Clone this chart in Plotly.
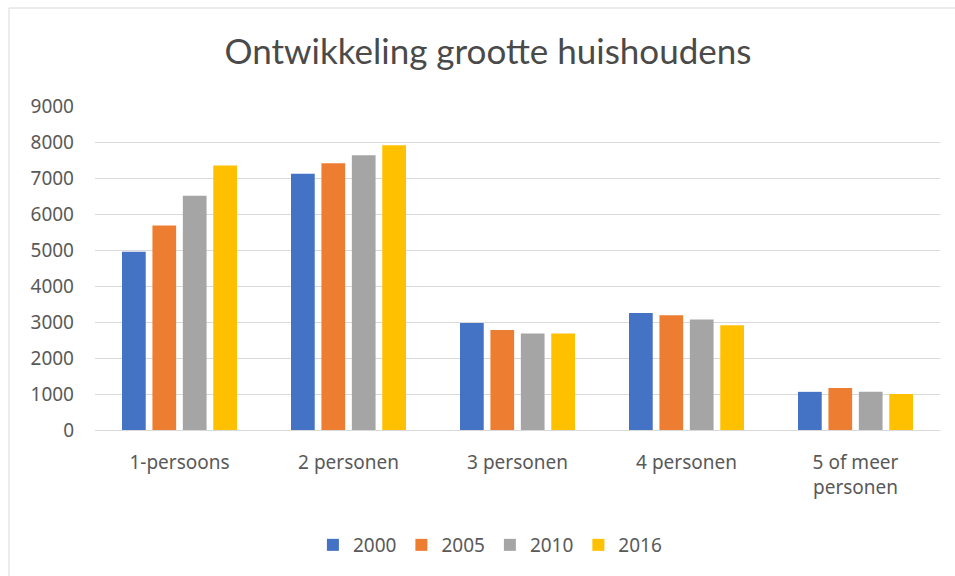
import plotly.graph_objects as go

categories = ["1-persoons", "2 personen", "3 personen", "4 personen", "5 of meer<br>personen"]
years = ["2000", "2005", "2010", "2016"]
values_2000 = [4950, 7120, 2970, 3250, 1060]
values_2005 = [5680, 7410, 2780, 3190, 1170]
values_2010 = [6510, 7630, 2680, 3070, 1060]
values_2016 = [7350, 7910, 2680, 2910, 1000]
colors = ["#4472C4", "#ED7D31", "#A5A5A5", "#FFC000"]

series = [values_2000, values_2005, values_2010, values_2016]

fig = go.Figure()
for name, vals, col in zip(years, series, colors):
    fig.add_trace(go.Bar(name=name, x=categories, y=vals, marker_color=col,
                         marker_line_width=0))

txt = "#595959"
fig.update_layout(
    width=955, height=576,
    paper_bgcolor="white", plot_bgcolor="white",
    margin=dict(l=95, r=15, t=106, b=146, autoexpand=False),
    barmode="group", bargap=0.28, bargroupgap=0.22,
    title=dict(text="Ontwikkeling grootte huishoudens", x=0.511, xref="container",
               xanchor="center",
               y=1 - 52/576, yref="container", yanchor="middle",
               font=dict(family="Lato", size=35, color="#4a4a4a")),
    font=dict(family="Noto Sans", size=19, color=txt),
    legend=dict(orientation="h", xref="container", x=0.513, xanchor="center",
                yref="container", y=1 - 545/576, yanchor="middle",
                font=dict(size=19, color=txt), itemwidth=30, traceorder="normal"),
    xaxis=dict(showgrid=False, showline=False, ticks="", ticklabelstandoff=19,
               automargin=False, tickfont=dict(size=19, color=txt)),
    yaxis=dict(range=[0, 9000], dtick=1000, showgrid=True, gridcolor="#d9d9d9",
               gridwidth=1, zeroline=True, zerolinecolor="#d9d9d9", zerolinewidth=1,
               automargin=False,
               ticks="", ticklabelstandoff=20, tickfont=dict(size=19, color=txt)),
    shapes=[dict(type="rect", xref="paper", yref="paper",
                 x0=(9-95)/845, x1=(1000-95)/845,
                 y0=(430-600)/324, y1=(430-8)/324,
                 line=dict(color="#d9d9d9", width=1), fillcolor="rgba(0,0,0,0)",
                 layer="below")],
)

fig.write_html("out.html", config={"displayModeBar": False},
               post_script="document.body.style.margin='0';document.body.style.padding='0';")
